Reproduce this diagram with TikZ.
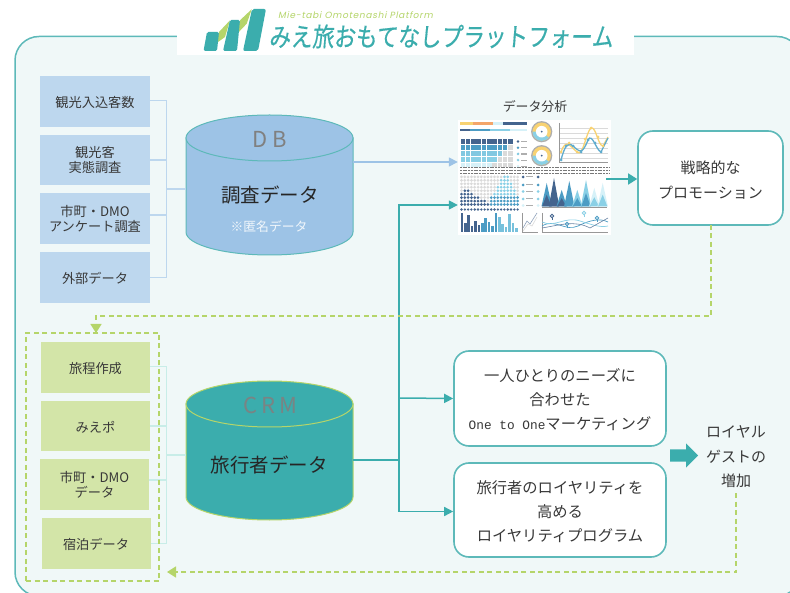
\documentclass[tikz,border=0pt]{standalone}
\usepackage{fontspec}
\usepackage{graphicx}
\usetikzlibrary{arrows.meta}
\setmainfont{Noto Sans CJK JP}
\newfontfamily\titlefont[FakeSlant=0.1,FakeBold=0.5]{Noto Sans CJK JP}
\newfontfamily\subfont[FakeSlant=0.2]{Poppins}
\newfontfamily\monofont{Liberation Mono}
\definecolor{panelbg}{HTML}{F0F8F8}
\definecolor{teal1}{HTML}{3BADAD}
\definecolor{teal2}{HTML}{5DB9B9}
\definecolor{lime1}{HTML}{B5D56A}
\definecolor{boxblue}{HTML}{BDD7EE}
\definecolor{cylblue}{HTML}{9DC3E6}
\definecolor{boxgreen}{HTML}{D3E5A8}
\definecolor{brkgreen}{HTML}{C8EDE8}
\definecolor{ink}{HTML}{383838}
\definecolor{navy}{HTML}{44648E}
\definecolor{midb}{HTML}{4C9CC4}
\definecolor{ltb}{HTML}{8AD0E6}
\definecolor{pale}{HTML}{D6F1F8}
\definecolor{yel}{HTML}{F8D272}
\definecolor{org}{HTML}{F4A56A}
\definecolor{gry}{HTML}{DADADA}
\tikzset{
  x=1pt,y=-1pt,
  tile/.style={minimum width=#1,inner sep=0pt,text=ink,align=center,font=\fontsize{13.2}{15}\selectfont,minimum height=50.5,execute at begin node=\rule{0pt}{13.5pt}},
  bluebox/.style={tile=110,fill=boxblue},
  greenbox/.style={tile=109,fill=boxgreen},
  roundbox/.style={draw=teal2,line width=1.6pt,fill=white,rounded corners=15pt,inner sep=0pt},
  boxtext/.style={inner sep=0pt,text=ink,align=center,font=\fontsize{15.3}{24}\selectfont},
  bluelink/.style={draw=boxblue,line width=1.1pt},
  greenlink/.style={draw=brkgreen,line width=1.1pt},
  tealarrow/.style={draw=teal1,line width=1.5pt,-{Triangle[length=9pt,width=9pt]}},
  tealline/.style={draw=teal1,line width=1.5pt},
  limedash/.style={draw=lime1,line width=1.5pt,dash pattern=on 5pt off 3.5pt},
  limearrow/.style={limedash,-{Triangle[length=9pt,width=11pt,sep=0pt]}},
  cyltext/.style={inner sep=0pt,text=#1},
  cyllabel/.style={inner sep=0pt,font=\fontsize{22}{24}\selectfont},
  cylbody/.style={minimum width=167,minimum height=140,inner sep=0pt}
}
\begin{document}
\begin{tikzpicture}
\useasboundingbox (0,0) rectangle (790,593);
\fill[white] (0,0) rectangle (790,593);
\begin{scope}
\clip (0,0) rectangle (790,593);
\draw[teal2,line width=1.5pt,fill=panelbg,rounded corners=24pt] (15,36.5) rectangle (801,596);
\end{scope}
% title plate
\fill[white] (177,10) rectangle (634,55);
% logo
\fill[lime1] (215.7,43.7) -- (219,32) -- (230,20.3) -- (225,37) -- cycle;
\fill[lime1] (235.7,35.3) -- (240,20.3) -- (251.7,9.3) -- (246.7,23.7) -- cycle;
\fill[teal1,rounded corners=1.5pt] (203.5,51) -- (207,32) -- (219,32) -- (217,51) -- cycle;
\fill[teal1,rounded corners=1.5pt] (223,51) -- (230,20) -- (240,20) -- (237,51) -- cycle;
\fill[teal1,rounded corners=2pt] (243,51) -- (252,9) -- (266,9) -- (258,51) -- cycle;
\node[inner sep=0pt,text=lime1] (subtitle) at (355.5,15) {\subfont\fontsize{9}{10}\selectfont\addfontfeature{LetterSpace=8}Mie-tabi Omotenashi Platform};
\node[inner sep=0pt,text=teal1] (title) at (441,36.5) {\scalebox{1}[1.2]{\titlefont\fontsize{21.6}{24}\selectfont みえ旅おもてなしプラットフォーム}};
% left blue tiles
\node[bluebox] (b1) at (95,101.5) {観光入込客数};
\node[bluebox] (b2) at (95,160) {観光客\\実態調査};
\node[bluebox] (b3) at (95,218.5) {市町・DMO\\アンケート調査};
\node[bluebox] (b4) at (95,277.5) {外部データ};
% left green tiles
\node[greenbox] (g1) at (95.5,367.5) {旅程作成};
\node[greenbox] (g2) at (95.5,426) {みえポ};
\node[greenbox] (g3) at (94.5,484.5) {市町・DMO\\データ};
\node[greenbox] (g4) at (96,543.5) {宿泊データ};
% cylinder DB
\node[cylbody] (db) at (269.5,185) {};
\draw[teal2,line width=1pt,fill=cylblue] (186,138) -- (186,232) arc[start angle=180,end angle=0,x radius=83.5,y radius=23] -- (353,138) -- cycle;
\draw[teal2,line width=1pt,fill=cylblue] (269.5,138) ellipse[x radius=83.5,y radius=23];
\node[cyllabel,text=gray] (dbl) at (269.5,139) {D\hspace{5pt}B};
\node[cyltext=black!85,font=\fontsize{19.5}{22}\selectfont] (dbt) at (270,195) {調査データ};
\node[cyltext=white!85!cylblue,font=\fontsize{12.8}{15}\selectfont] (dbn) at (269,227) {※匿名データ};
% cylinder CRM
\node[cylbody] (crm) at (269.5,450.5) {};
\draw[lime1,line width=1pt,fill=teal1] (186,404) -- (186,497) arc[start angle=180,end angle=0,x radius=83.5,y radius=23] -- (353,404) -- cycle;
\draw[lime1,line width=1pt,fill=teal1] (269.5,404) ellipse[x radius=83.5,y radius=23];
\node[cyllabel,text=gray!90!teal1] (crml) at (270,405) {C\hspace{4pt}R\hspace{4pt}M};
\node[cyltext=black!85,font=\fontsize{19.5}{22}\selectfont] (crmt) at (269,465) {旅行者データ};
% brackets
\coordinate (bj) at (166.5,189);
\coordinate (gj) at (166.5,455);
\draw[bluelink] (b1.east |- 0,100.5) -| (bj);
\draw[bluelink] (b4.east) -| (bj);
\draw[bluelink] (b2.east) -- (b2.east -| bj);
\draw[bluelink] (b3.east |- 0,215) -- (bj |- 0,215);
\draw[bluelink] (bj) -- (db.west |- bj);
\draw[greenlink] (g1.east |- 0,366.5) -| (gj);
\draw[greenlink] (g4.east) -| (gj);
\draw[greenlink] (g2.east) -- (g2.east -| gj);
\draw[greenlink] (g3.east |- 0,480) -- (gj |- 0,480);
\draw[greenlink] (gj) -- (crm.west |- gj);
% analysis picture
\node[inner sep=0pt,text=ink,font=\fontsize{12.9}{15}\selectfont] (an) at (535,107) {データ分析};
\node[fill=white,minimum width=153,minimum height=115,inner sep=0pt] (dash) at (534.5,178) {};
% top bars
\fill[yel] (460,122.5) rectangle (473,125);\fill[org] (473,122.5) rectangle (493,125);\fill[pale] (493,122.5) rectangle (503,125);\fill[navy] (503,122.5) rectangle (527,125);
\fill[navy] (460,129) rectangle (470,131.5);\fill[midb] (470,129) rectangle (490,131.5);\fill[ltb] (490,129) rectangle (510,131.5);\fill[pale] (510,129) rectangle (527,131.5);
\foreach \c [count=\r] in {navy,midb,ltb!85!midb,ltb,pale}{
  \foreach \k in {0,...,9}{
    \pgfmathtruncatemacro{\limitv}{10-\r}
    \ifnum\k>\limitv \def\cc{gry}\else \def\cc{\c}\fi
    \fill[\cc] ({460.5+\k*5.3},{139.5+(\r-1)*5.8}) rectangle ++(4.5,4.8);
  }
  \fill[\c] (518,{141.5+(\r-1)*6.2}) circle (1.4);
  \fill[gry!80!black] (521,{141+(\r-1)*6.2}) rectangle ++(6,1.2);
}
% donuts
\foreach \y in {131.7,155.7}{
  \fill[gry!80!black] (541.7,\y) circle (10.6);
  \fill[yel] (541.7,\y) circle (9.2);
  \fill[ltb] (541.7,\y) -- ++(180:9.2) arc[start angle=180,end angle=40,radius=9.2] -- cycle;
  \fill[white] (541.7,\y) circle (5.8);
  \fill[navy] (541.7,\y) circle (1);
}
% line chart
\foreach \y in {128,133,138,143,148,153,158}{\draw[gry,line width=0.4pt] (559,\y) -- (608,\y);}
\draw[gry!70!black,line width=0.5pt] (559,123) -- (559,162) -- (608,162);
\draw[yel,line width=1.3pt] (561,152) .. controls (566,138) and (570,146) .. (577,152) .. controls (583,158) and (586,132) .. (591,128) .. controls (596,126) and (598,146) .. (603,146) -- (608,137);
\draw[midb!70!ltb,line width=1.3pt] (561,160) .. controls (565,145) and (568,142) .. (573,146) .. controls (580,152) and (582,155) .. (588,140) .. controls (592,132) and (596,150) .. (601,152) -- (608,138);
\foreach \x/\y in {561/152,569/143,577/152,585/139,591/128,598/137,603/146}{\fill[yel] (\x,\y) circle (1.5);}
\foreach \x/\y in {561/160,566/146,573/146,581/152,588/140,595/143,601/152}{\fill[midb!70!ltb] (\x,\y) circle (1.5);}
% small text
\foreach \y in {167.5,170.5,173}{\draw[gry!55!black,line width=0.6pt,dash pattern=on 2pt off .7pt] (460,\y) -- (610,\y);}
% dot grid
\foreach \h [count=\i from 0] in {4,5,5,4,3,3,2,2,1,3,4,6,8,9,9,7,5,3}{
  \foreach \j in {0,...,8}{
    \pgfmathtruncatemacro{\isfill}{\j<\h?1:0}
    \ifnum\isfill=1
      \ifnum\i<9 \def\cc{navy}\else \ifnum\j<3 \def\cc{midb}\else \def\cc{ltb}\fi\fi
    \else \def\cc{gry}\fi
    \fill[\cc] ({461.5+\i*3.3},{204.5-\j*3.45}) circle (1.5);
  }
}
\foreach \y/\c in {177/navy,185/midb,191.5/ltb,199/ltb,205.5/pale}{
  \fill[\c] (523,\y) circle (1.5);\fill[gry!80!black] (526,{\y-.5}) rectangle ++(7,1);\fill[\c] (538,\y) circle (1.5);
}
\foreach \i in {0,...,17}{\fill[navy] ({461.5+\i*3.3},209.5) circle (1.3);}
% triangles
\foreach \x/\ph/\ca/\cb in {546.7/183/midb/navy,554/178/navy/navy,561.7/190/midb/navy,569.3/181/midb/midb,577.3/190/ltb/midb,586/180/ltb/midb,594.3/188/pale/ltb,602.7/183/pale/ltb}{
  \fill[\ca] ({\x-5.2},206.3) -- (\x,\ph) -- ({\x+5.2},206.3) -- cycle;
  \fill[\cb] ({\x-4.6},206.3) -- (\x,{(\ph+206.3)/2}) -- ({\x+4.6},206.3) -- cycle;
}
\draw[gry!70!black,line width=0.4pt] (542,207) -- (607,207);
% bars
\foreach \h [count=\i from 0] in {19,9,17,6,11,7,9,14,10,6,19,15,8,5,18,9,4}{
  \pgfmathtruncatemacro{\tt}{\i<6?0:(\i<11?1:2)}
  \ifcase\tt \def\cc{navy}\or \def\cc{midb}\else \def\cc{ltb!70!midb}\fi
  \fill[\cc] ({460.5+\i*3.4},232) rectangle ++(2.6,{-\h});
}
% small chart
\draw[gry!70!black,line width=0.4pt] (522,213) -- (522,232) -- (538,232);
\draw[navy!60,line width=0.6pt] (523,228) -- (527,221) -- (530,224) -- (537,213);
\draw[gry,line width=0.6pt] (523,231) -- (528,224) -- (532,226) -- (537,217);
% map chart
\draw[gry!70!black,line width=0.4pt] (542,213) -- (542,232) -- (608,232);
\draw[midb,line width=0.7pt] (542,226) .. controls (555,218) and (565,232) .. (578,226) .. controls (590,220) and (600,218) .. (608,222);
\draw[ltb,line width=0.7pt] (542,222) .. controls (555,228) and (565,216) .. (580,221) .. controls (590,224) and (600,228) .. (608,226);
\draw[navy!80,line width=0.6pt] (542,228) .. controls (560,225) and (575,220) .. (590,228) -- (608,218);
\foreach \x/\y/\c in {552/216/navy,567/224/midb,584/213/ltb,597/218/midb}{
  \draw[\c,line width=0.8pt] (\x,\y) circle (1.8);
  \draw[\c,line width=0.6pt] (\x,{\y+1.8}) -- (\x,{\y+4});
}
% right boxes
\node[roundbox,minimum width=145,minimum height=94] (promo) at (710.5,178) {};
\node[boxtext,font=\fontsize{15}{25}\selectfont] (promot) at (710.5,180) {戦略的な\\プロモーション};
\node[roundbox,minimum width=212,minimum height=95] (one) at (560,398.5) {};
\node[boxtext] (onet) at (560,400) {一人ひとりのニーズに\\合わせた\\{\monofont\fontsize{12.8}{24}\selectfont One to One}マーケティング};
\node[roundbox,minimum width=212,minimum height=94] (loy) at (560,510) {};
\node[boxtext] (loyt) at (560,511.5) {旅行者のロイヤリティを\\高める\\ロイヤリティプログラム};
\node[inner sep=0pt,text=ink,align=center,font=\fontsize{15}{24.5}\selectfont] (guest) at (736,457) {ロイヤル\\ゲストの\\増加};
% connectors
\coordinate (trunk) at (399,460);
\coordinate (fbk) at (736,493);
\coordinate (fbkend) at (167,572);
\draw[-{Triangle[length=9pt,width=9pt]},draw=cylblue,line width=1.5pt] (db.east |- 0,162) -- (dash.west |- 0,162);
\draw[tealline] (crm.east |- trunk) -- (trunk);
\draw[tealarrow] (trunk) -- (399,205) -- (dash.west |- 0,205);
\draw[tealline] (399,205) -- (399,511.5);
\draw[tealarrow] (399,398) -- (one.west);
\draw[tealarrow] (399,511.5) -- (loy.west |- 0,511.5);
\draw[teal1,line width=1.5pt,-{Triangle[length=9pt,width=11pt]}] (606,179) -- (promo.west |- 0,179);
\fill[teal1] (670,449.5) -- (686,449.5) -- (686,443.5) -- (698,455.5) -- (686,467.5) -- (686,461.5) -- (670,461.5) -- cycle;
% dashed box and feedback
\node[draw=lime1,line width=1.5pt,dash pattern=on 5pt off 3.5pt,minimum width=133,minimum height=248,inner sep=0pt] (dbox) at (92.5,457) {};
\draw[limearrow] (711,225) -- (711,316) -- (96,316) -- (96,333);
\draw[limearrow] (fbk) -- (736,572) -- (fbkend);
\end{tikzpicture}
\end{document}
